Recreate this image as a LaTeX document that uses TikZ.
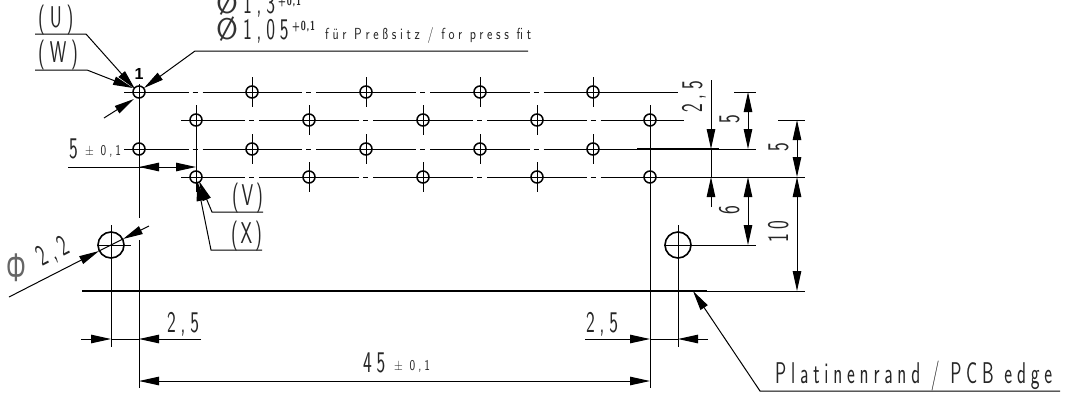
\documentclass[tikz,border=0pt]{standalone}
\usepackage{fontspec}
\usetikzlibrary{arrows.meta}
\setmainfont[FakeStretch=0.62,LetterSpace=16]{Latin Modern Sans}
\newfontfamily\phifont[FakeStretch=0.62]{Liberation Sans}
\newfontfamily\onefont{Liberation Sans}
\newfontfamily\diafont{Latin Modern Sans}
\newfontfamily\vxfont[FakeStretch=0.62,LetterSpace=9]{Latin Modern Sans}
\newfontfamily\smallfont[FakeStretch=0.8,LetterSpace=23]{Latin Modern Sans}
\newfontfamily\tolfont[FakeStretch=0.8,LetterSpace=20]{Latin Modern Sans}
\newfontfamily\supfont[FakeStretch=0.7,LetterSpace=6]{Latin Modern Sans}
\newcommand{\isomain}{\fontsize{30}{30}\selectfont}
\newcommand{\isovx}{\vxfont\fontsize{30}{30}\selectfont}
\newcommand{\isosmall}{\smallfont\fontsize{16}{16}\selectfont}
\newcommand{\isotol}{\tolfont\fontsize{15}{15}\selectfont}
\newcommand{\isosup}{\supfont\bfseries\fontsize{13}{13}\selectfont}
\tikzset{
  thinln/.style={line width=1pt,black},
  leader/.style={line width=1pt,black,-{Triangle[length=20pt,width=8.5pt]}},
  dimboth/.style={line width=1pt,black,{Triangle[length=20pt,width=8.5pt]}-{Triangle[length=20pt,width=8.5pt]}},
  hole/.style={circle,draw=black,line width=1.5pt,minimum size=12pt,inner sep=0pt},
  bighole/.style={circle,draw=black,line width=1.6pt,minimum size=26pt,inner sep=0pt},
  lab/.style={inner sep=0pt,anchor=base west,text=black!85,font=\isomain},
  vxlab/.style={inner sep=0pt,anchor=base west,text=black!85,font=\isovx},
  slab/.style={inner sep=0pt,anchor=base west,text=black!85,font=\isosmall},
  tol/.style={inner sep=0pt,anchor=base west,text=black!85,font=\isotol},
  suplab/.style={inner sep=0pt,anchor=base west,text=black!85,font=\isosup},
  dia/.style={inner sep=0pt,anchor=base west,text=black!80,font=\diafont\fontsize{30}{30}\selectfont},
  vlab/.style={lab,rotate=90}
}
\newcommand{\rowline}[2]{%
  \foreach \a/\m/\b in {#2}{
    \draw[thinln] (\a,#1) -- (\m-7,#1);
    \draw[thinln] (\m-3,#1) -- (\m+2,#1);
    \draw[thinln] (\m+7,#1) -- (\b,#1);
  }}
\begin{document}
\begin{tikzpicture}[x=1pt,y=-1pt]
\useasboundingbox (0,0) rectangle (1066,405);
\clip (0,0) rectangle (1066,405);
\fill[white] (0,0) rectangle (1066,405);

% centre lines of the rows
\rowline{92}{139/195.5/252,252/309/366,366/423/480,480/536.5/593}
\rowline{120}{196/252/309,309/366/423,423/480/537,537/593.5/650}
\rowline{149}{139/195.5/252,252/309/366,366/423/480,480/536.5/593}
\rowline{177}{196/252/309,309/366/423,423/480/537,537/593.5/650}
\draw[thinln] (124,92) -- (139,92) (593,92) -- (678,92) (734,92) -- (756,92);
\draw[thinln] (181,120) -- (196,120) (650,120) -- (684,120) (778,120) -- (805,120);
\draw[thinln] (124,149) -- (139,149) (593,149) -- (756,149);
\draw[line width=1.6pt] (637,149) -- (719,149);
\draw[thinln] (181,177) -- (196,177) (650,177) -- (805,177);

% holes
\foreach \x [count=\i] in {139,252,366,480,593}{
  \node[hole] (a\i) at (\x,92) {};
  \node[hole] (c\i) at (\x,149) {};
  \ifnum\i>1
    \draw[thinln] (\x,77) -- (\x,107) (\x,134) -- (\x,164);
  \fi
}
\foreach \x [count=\i] in {196,309,423,537,650}{
  \node[hole] (b\i) at (\x,120) {};
  \node[hole] (d\i) at (\x,177) {};
  \ifnum\i<5
    \ifnum\i>1
      \draw[thinln] (\x,105) -- (\x,135) (\x,162) -- (\x,192);
    \fi
  \fi
}
\node[bighole] (p1) at (111,245) {};
\node[bighole] (p2) at (678,245) {};

% long vertical lines
\draw[thinln] (139,84) -- (139,218) (139,240) -- (139,388);
\draw[thinln] (196,105) -- (196,192);
\draw[thinln] (650,105) -- (650,388);
\draw[thinln] (111,225) -- (111,347);
\draw[thinln] (678,225) -- (678,347);
\draw[thinln] (97,245) -- (131,245);
\draw[thinln] (664,245) -- (756,245);

% PCB edge
\draw[line width=2pt] (82,291) -- (707,291);
\draw[thinln] (707,291) -- (805,291);

% right dimensions
\coordinate (t25a) at (711,80);
\coordinate (t25b) at (711,149);
\coordinate (t25c) at (711,207);
\coordinate (t25d) at (711,177);
\draw[leader] (t25a) -- (t25b);
\draw[leader] (t25c) -- (t25d);
\draw[thinln] (t25b) -- (t25d);
\draw[dimboth] (748,92) -- (748,149);
\draw[dimboth] (748,177) -- (748,245);
\draw[dimboth] (797,120) -- (797,177);
\draw[dimboth] (797,177) -- (797,291);

% bottom dimensions
\draw[leader] (81,339) -- (111,339);
\draw[leader] (201,339) -- (139,339);
\draw[thinln] (111,339) -- (139,339);
\draw[leader] (585,339) -- (650,339);
\draw[leader] (708,339) -- (678,339);
\draw[thinln] (650,339) -- (678,339);
\draw[dimboth] (139,381) -- (650,381);

% 5 +- 0,1
\draw[leader] (68,167) -- (196,167);
\draw[leader] (175,167) -- (139,167);

% leaders top left
\coordinate (uA) at (35,34); \coordinate (uB) at (86,34); \coordinate (uC) at (135,89);
\draw[leader] (uA) -- (uB) -- (uC);
\coordinate (wA) at (35,70); \coordinate (wB) at (87,70); \coordinate (wC) at (133,88);
\draw[leader] (wA) -- (wB) -- (wC);
\coordinate (dA) at (528,51); \coordinate (dB) at (195,51); \coordinate (dC) at (144,88);
\draw[leader] (dA) -- (dB) -- (dC);
\coordinate (eA) at (104,118); \coordinate (eC) at (134,99);
\draw[leader] (eA) -- (eC);

% V and X leaders
\coordinate (vA) at (263,212); \coordinate (vB) at (212,212); \coordinate (vC) at (199,181);
\draw[leader] (vA) -- (vB) -- (vC);
\coordinate (xA) at (262,250); \coordinate (xB) at (211,250); \coordinate (xC) at (197,181);
\draw[leader] (xA) -- (xB) -- (xC);

% Phi 2,2 leader
\coordinate (fA) at (9,297); \coordinate (fB) at (99,251); \coordinate (fC) at (149,226); \coordinate (fD) at (123,239);
\draw[leader] (fA) -- (fB);
\draw[leader] (fC) -- (fD);
\draw[thinln] (fB) -- (fD);

% PCB edge leader
\coordinate (pA) at (1060,391); \coordinate (pB) at (760,391); \coordinate (pC) at (693,291);
\draw[leader] (pA) -- (pB) -- (pC);

% labels
\node[lab] (tU) at (38,27) {(U)};
\node[lab] (tW) at (38,62) {(W)};
\node[inner sep=0pt,text=black,font=\onefont\bfseries\fontsize{16}{16}\selectfont] (tone) at (139,74) {1};
\node[dia] (d13a) at (216,13) {Ø};
\node[lab] (d13) at (243,13) {1,3};
\node[suplab] (d13s) at (278,5) {+0,1};
\node[dia] (d105a) at (216,39) {Ø};
\node[lab] (d105) at (243,39) {1,05};
\node[suplab] (d105s) at (292,30) {+0,1};
\node[slab] (press) at (325,39) {für Preßsitz / for press fit};
\node[lab] (t5) at (69,158) {5};
\node[tol] (t5s) at (85,155) {± 0,1};
\node[vxlab] (tV) at (232,205) {(V)};
\node[vxlab] (tX) at (231,243) {(X)};
\node[inner sep=0pt,text=black!60,font=\phifont\fontsize{40}{40}\selectfont] (tphi) at (16,268) {Φ};
\node[inner sep=0pt,text=black!85,rotate=27,font=\isomain] (t22) at (53,252) {2,2};
\node[lab] (t25l) at (167,332) {2,5};
\node[lab] (t25r) at (586,332) {2,5};
\node[lab] (t45) at (363,372) {45};
\node[tol] (t45s) at (394,370) {± 0,1};
\node[lab] (tpcb) at (775,383) {Platinenrand / PCB edge};
\node[vlab] (v25) at (702,113) {2,5};
\node[vlab] (v5a) at (739,124) {5};
\node[vlab] (v5b) at (788,152) {5};
\node[vlab] (v6) at (739,215) {6};
\node[vlab] (v10) at (788,243) {10};
\end{tikzpicture}
\end{document}
